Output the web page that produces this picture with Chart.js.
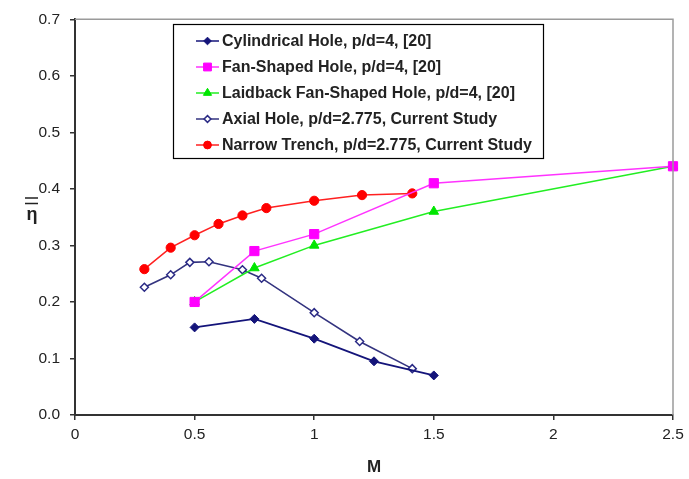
<!DOCTYPE html>
<html>
<head>
<meta charset="utf-8">
<script src="https://cdn.jsdelivr.net/npm/chart.js@4.4.1/dist/chart.umd.min.js"></script>
<style>
  body { margin: 0; background: #fff; }
  #wrap { width: 689px; height: 479px; }
</style>
</head>
<body>
<div id="wrap"><canvas id="chart" width="689" height="479"></canvas></div>
<script>
// values
const seriesNames = [
    'Cylindrical Hole, p/d=4, [20]',
    'Fan-Shaped Hole, p/d=4, [20]',
    'Laidback Fan-Shaped Hole, p/d=4, [20]',
    'Axial Hole, p/d=2.775, Current Study',
    'Narrow Trench, p/d=2.775, Current Study'
];
const cylM = [0.5, 0.75, 1.0, 1.25, 1.5];
const cylEta = [0.155, 0.17, 0.135, 0.095, 0.07];
const fanM = [0.5, 0.75, 1.0, 1.5, 2.5];
const fanEta = [0.2, 0.29, 0.32, 0.41, 0.44];
const laidM = [0.5, 0.75, 1.0, 1.5, 2.5];
const laidEta = [0.2, 0.26, 0.30, 0.36, 0.44];
const axialM = [0.29, 0.4, 0.48, 0.56, 0.7, 0.78, 1.0, 1.19, 1.41];
const axialEta = [0.226, 0.248, 0.27, 0.271, 0.257, 0.242, 0.181, 0.13, 0.082];
const trenchM = [0.29, 0.4, 0.5, 0.6, 0.7, 0.8, 1.0, 1.2, 1.41];
const trenchEta = [0.258, 0.296, 0.318, 0.338, 0.353, 0.366, 0.379, 0.389, 0.392];

function pts(xs, ys) {
    return xs.map((x, i) => ({ x: x, y: ys[i] }));
}

const FONT = "'Liberation Sans', Arial, sans-serif";

function drawMarker(ctx, style, x, y, r) {
    if (style === 'rectRot') {
        ctx.moveTo(x, y - r); ctx.lineTo(x + r, y); ctx.lineTo(x, y + r); ctx.lineTo(x - r, y); ctx.closePath();
    } else if (style === 'rect') {
        const s = r * Math.SQRT1_2;
        ctx.rect(x - s, y - s, 2 * s, 2 * s);
    } else if (style === 'triangle') {
        ctx.moveTo(x, y - r); ctx.lineTo(x + r * 0.87, y + r * 0.5); ctx.lineTo(x - r * 0.87, y + r * 0.5); ctx.closePath();
    } else {
        ctx.arc(x, y, r, 0, Math.PI * 2);
    }
}

// legend box drawn inside the plot, plus frame and eta title
const extras = {
    id: 'extras',
    afterDraw(chart) {
        const ctx = chart.ctx;
        const a = chart.chartArea;
        ctx.save();
        // top and right frame
        ctx.strokeStyle = '#9a9a9a';
        ctx.lineWidth = 1.5;
        ctx.beginPath();
        ctx.moveTo(a.left, a.top);
        ctx.lineTo(a.right, a.top);
        ctx.lineTo(a.right, a.bottom);
        ctx.stroke();

        // y title: eta with double bar
        ctx.fillStyle = '#222';
        ctx.font = 'bold 18px ' + FONT;
        ctx.textAlign = 'center';
        ctx.textBaseline = 'middle';
        ctx.fillText('η', 32, 215);
        ctx.strokeStyle = '#222';
        ctx.lineWidth = 1.6;
        ctx.beginPath();
        ctx.moveTo(25, 198); ctx.lineTo(38, 198);
        ctx.moveTo(25, 203.5); ctx.lineTo(38, 203.5);
        ctx.stroke();

        // legend
        const bx = 173, by = 24, bw = 370, bh = 134;
        ctx.fillStyle = '#fff';
        ctx.fillRect(bx, by, bw, bh);
        ctx.strokeStyle = '#000';
        ctx.lineWidth = 1.2;
        ctx.strokeRect(bx + 0.5, by + 0.5, bw, bh);
        ctx.font = 'bold 16px ' + FONT;
        ctx.textAlign = 'left';
        chart.data.datasets.forEach((ds, i) => {
            const y = 41 + i * 26;
            ctx.strokeStyle = ds.borderColor;
            ctx.lineWidth = 1.5;
            ctx.beginPath();
            ctx.moveTo(196, y);
            ctx.lineTo(219, y);
            ctx.stroke();
            ctx.fillStyle = ds.pointBackgroundColor;
            ctx.strokeStyle = ds.pointBorderColor;
            ctx.lineWidth = ds.pointBorderWidth || 1;
            ctx.beginPath();
            drawMarker(ctx, ds.pointStyle, 207.5, y, ds.pointRadius * 0.85);
            ctx.fill();
            ctx.stroke();
            ctx.fillStyle = '#222';
            ctx.fillText(ds.label, 222, y + 0.5);
        });
        ctx.restore();
    }
};

const ctx = document.getElementById('chart');
new Chart(ctx, {
    type: 'line',
    data: {
        datasets: [
            {
                label: seriesNames[0], data: pts(cylM, cylEta),
                borderColor: '#14147a', backgroundColor: '#14147a',
                pointBackgroundColor: '#14147a', pointBorderColor: '#14147a',
                pointStyle: 'rectRot', pointRadius: 4.5, pointBorderWidth: 1, borderWidth: 1.8
            },
            {
                label: seriesNames[1], data: pts(fanM, fanEta),
                borderColor: '#ff33ff', backgroundColor: '#ff00ff',
                pointBackgroundColor: '#ff00ff', pointBorderColor: '#ff00ff',
                pointStyle: 'rect', pointRadius: 6.5, pointBorderWidth: 1, borderWidth: 1.5
            },
            {
                label: seriesNames[2], data: pts(laidM, laidEta),
                borderColor: '#22ee22', backgroundColor: '#00e600',
                pointBackgroundColor: '#00e600', pointBorderColor: '#00e600',
                pointStyle: 'triangle', pointRadius: 5.5, pointBorderWidth: 1, borderWidth: 1.5
            },
            {
                label: seriesNames[3], data: pts(axialM, axialEta),
                borderColor: '#33337f', backgroundColor: '#ffffff',
                pointBackgroundColor: '#ffffff', pointBorderColor: '#2a2a85',
                pointStyle: 'rectRot', pointRadius: 4, pointBorderWidth: 1.5, borderWidth: 1.6
            },
            {
                label: seriesNames[4], data: pts(trenchM, trenchEta),
                borderColor: '#ff2020', backgroundColor: '#ff0000',
                pointBackgroundColor: '#ff0000', pointBorderColor: '#ff0000',
                pointStyle: 'circle', pointRadius: 4.6, pointBorderWidth: 1, borderWidth: 1.5
            }
        ]
    },
    options: {
        responsive: false,
        animation: false,
        clip: false,
        layout: { padding: { left: 0, right: 16, top: 15, bottom: 0 } },
        plugins: {
            legend: { display: false },
            tooltip: { enabled: false }
        },
        scales: {
            x: {
                type: 'linear',
                min: 0, max: 2.5,
                afterFit: s => { s.height = 64; },
                ticks: { stepSize: 0.5, color: '#222', padding: 5, font: { family: FONT, size: 15.5 }, callback: v => String(v) },
                grid: { drawOnChartArea: false, tickLength: 5, color: '#333', lineWidth: 1.5 },
                border: { color: '#333', width: 2 },
                title: { display: true, text: 'M', color: '#222', padding: { top: 0, bottom: 1 }, font: { family: FONT, size: 17, weight: 'bold' } }
            },
            y: {
                min: 0, max: 0.7,
                afterFit: s => { s.width = 75; },
                ticks: { stepSize: 0.1, color: '#222', padding: 10, font: { family: FONT, size: 15.5 }, callback: v => v.toFixed(1) },
                grid: { drawOnChartArea: false, tickLength: 5, color: '#333', lineWidth: 1.5 },
                border: { color: '#333', width: 2 }
            }
        }
    },
    plugins: [extras]
});
</script>
</body>
</html>
